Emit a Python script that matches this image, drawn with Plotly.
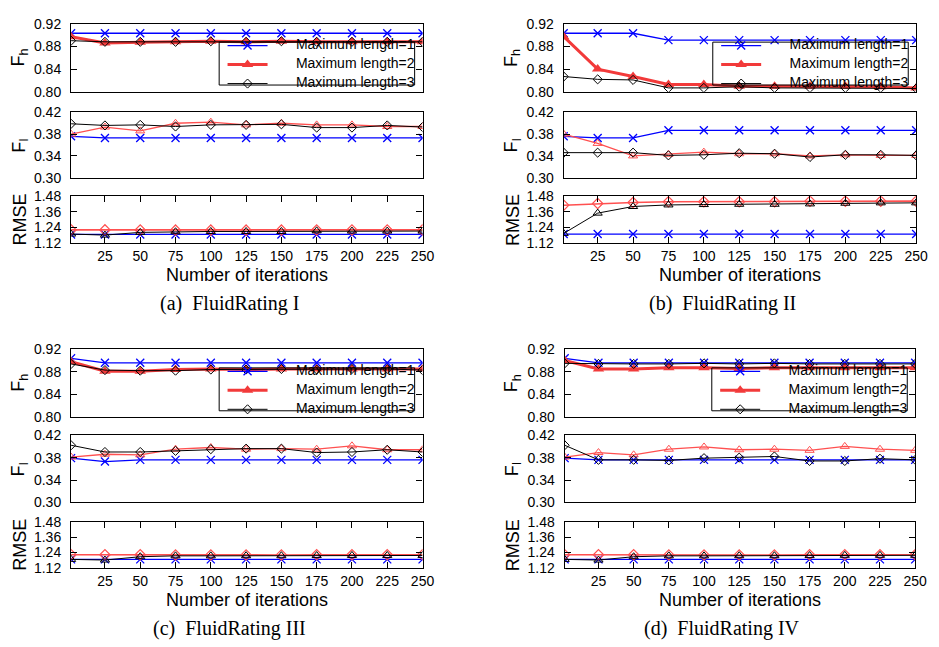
import plotly.graph_objects as go

# ---------------- data ----------------
iterations = [1, 25, 50, 75, 100, 125, 150, 175, 200, 225, 250]
x_ticks = [25, 50, 75, 100, 125, 150, 175, 200, 225, 250]
series_names = ["Maximum length=1", "Maximum length=2", "Maximum length=3"]
captions = ["(a)\u00a0 FluidRating I", "(b)\u00a0 FluidRating II",
            "(c)\u00a0 FluidRating III", "(d)\u00a0 FluidRating IV"]
fh_ticks = [0.80, 0.84, 0.88, 0.92]
fi_ticks = [0.30, 0.34, 0.38, 0.42]
rm_ticks = [1.12, 1.24, 1.36, 1.48]

# panel (a)
fh_a_1 = [0.903, 0.903, 0.903, 0.903, 0.903, 0.903, 0.903, 0.903, 0.903, 0.903, 0.903]
fh_a_2 = [0.897, 0.886, 0.887, 0.888, 0.889, 0.888, 0.889, 0.888, 0.888, 0.888, 0.888]
fh_a_3 = [0.890, 0.888, 0.888, 0.888, 0.889, 0.888, 0.889, 0.888, 0.888, 0.888, 0.888]
fi_a_1 = [0.376, 0.373, 0.373, 0.373, 0.373, 0.373, 0.373, 0.373, 0.373, 0.373, 0.373]
fi_a_2 = [0.380, 0.393, 0.386, 0.400, 0.402, 0.397, 0.400, 0.397, 0.397, 0.394, 0.394]
fi_a_3 = [0.399, 0.396, 0.397, 0.394, 0.397, 0.397, 0.398, 0.392, 0.392, 0.396, 0.393]
rm_a_1 = [1.186, 1.186, 1.186, 1.186, 1.186, 1.186, 1.186, 1.186, 1.186, 1.186, 1.186]
rm_a_2 = [1.221, 1.221, 1.220, 1.219, 1.219, 1.219, 1.219, 1.220, 1.220, 1.220, 1.221]
rm_a_3 = [1.189, 1.181, 1.202, 1.207, 1.209, 1.209, 1.209, 1.214, 1.212, 1.212, 1.212]

# panel (b)
fh_b_1 = [0.903, 0.903, 0.903, 0.891, 0.891, 0.891, 0.891, 0.891, 0.891, 0.891, 0.891]
fh_b_2 = [0.897, 0.840, 0.827, 0.813, 0.813, 0.810, 0.810, 0.810, 0.810, 0.809, 0.807]
fh_b_3 = [0.827, 0.822, 0.821, 0.807, 0.807, 0.809, 0.807, 0.807, 0.807, 0.807, 0.806]
fi_b_1 = [0.376, 0.373, 0.373, 0.387, 0.387, 0.387, 0.387, 0.387, 0.387, 0.387, 0.387]
fi_b_2 = [0.380, 0.363, 0.340, 0.343, 0.347, 0.344, 0.344, 0.340, 0.342, 0.341, 0.341]
fi_b_3 = [0.346, 0.346, 0.346, 0.341, 0.342, 0.345, 0.344, 0.338, 0.342, 0.342, 0.341]
rm_b_1 = [1.189, 1.189, 1.189, 1.189, 1.189, 1.189, 1.189, 1.189, 1.189, 1.189, 1.189]
rm_b_2 = [1.411, 1.424, 1.432, 1.437, 1.437, 1.437, 1.437, 1.442, 1.442, 1.442, 1.442]
rm_b_3 = [1.194, 1.350, 1.401, 1.413, 1.416, 1.418, 1.418, 1.421, 1.426, 1.429, 1.429]

# panel (c)
fh_c_1 = [0.904, 0.896, 0.896, 0.896, 0.896, 0.896, 0.896, 0.896, 0.896, 0.896, 0.896]
fh_c_2 = [0.898, 0.881, 0.881, 0.884, 0.885, 0.884, 0.885, 0.885, 0.885, 0.885, 0.885]
fh_c_3 = [0.894, 0.883, 0.882, 0.882, 0.884, 0.884, 0.885, 0.884, 0.885, 0.885, 0.883]
fi_c_1 = [0.379, 0.373, 0.376, 0.376, 0.376, 0.376, 0.376, 0.376, 0.376, 0.376, 0.376]
fi_c_2 = [0.381, 0.386, 0.385, 0.395, 0.398, 0.395, 0.396, 0.395, 0.401, 0.394, 0.394]
fi_c_3 = [0.402, 0.390, 0.390, 0.392, 0.395, 0.396, 0.396, 0.389, 0.390, 0.394, 0.390]
rm_c_1 = [1.186, 1.186, 1.186, 1.186, 1.186, 1.186, 1.186, 1.186, 1.186, 1.186, 1.186]
rm_c_2 = [1.223, 1.222, 1.222, 1.221, 1.221, 1.221, 1.221, 1.222, 1.222, 1.222, 1.222]
rm_c_3 = [1.186, 1.181, 1.207, 1.214, 1.214, 1.215, 1.215, 1.216, 1.217, 1.217, 1.217]

# panel (d)
fh_d_1 = [0.904, 0.896, 0.896, 0.896, 0.896, 0.896, 0.896, 0.896, 0.896, 0.896, 0.896]
fh_d_2 = [0.900, 0.885, 0.885, 0.887, 0.887, 0.886, 0.887, 0.887, 0.887, 0.887, 0.887]
fh_d_3 = [0.895, 0.894, 0.894, 0.894, 0.895, 0.894, 0.895, 0.894, 0.894, 0.894, 0.894]
fi_d_1 = [0.379, 0.376, 0.376, 0.376, 0.376, 0.376, 0.376, 0.376, 0.376, 0.376, 0.376]
fi_d_2 = [0.381, 0.389, 0.385, 0.395, 0.399, 0.394, 0.395, 0.393, 0.400, 0.395, 0.393]
fi_d_3 = [0.402, 0.376, 0.376, 0.375, 0.379, 0.380, 0.382, 0.374, 0.374, 0.378, 0.376]
rm_d_1 = [1.186, 1.186, 1.186, 1.186, 1.186, 1.186, 1.186, 1.186, 1.186, 1.186, 1.186]
rm_d_2 = [1.223, 1.222, 1.222, 1.221, 1.221, 1.221, 1.221, 1.222, 1.222, 1.222, 1.222]
rm_d_3 = [1.186, 1.181, 1.207, 1.214, 1.214, 1.215, 1.215, 1.216, 1.218, 1.218, 1.218]

panels = [
    [[fh_a_1, fh_a_2, fh_a_3], [fi_a_1, fi_a_2, fi_a_3], [rm_a_1, rm_a_2, rm_a_3]],
    [[fh_b_1, fh_b_2, fh_b_3], [fi_b_1, fi_b_2, fi_b_3], [rm_b_1, rm_b_2, rm_b_3]],
    [[fh_c_1, fh_c_2, fh_c_3], [fi_c_1, fi_c_2, fi_c_3], [rm_c_1, rm_c_2, rm_c_3]],
    [[fh_d_1, fh_d_2, fh_d_3], [fi_d_1, fi_d_2, fi_d_3], [rm_d_1, rm_d_2, rm_d_3]],
]

# ---------------- layout geometry (pixels) ----------------
W, H = 939, 647
SANS = "Liberation Sans, Arial, sans-serif"
SERIF = "Liberation Serif, Times New Roman, serif"
BLUE = "#0000ff"
RED = "#f23a3a"
RED_THIN = "#ff5050"
BLACK = "#000000"

col_x = [(72, 428), (571, 928), (72, 428), (572, 927)]
rows_top = [(16, 86), (107, 174), (193, 241)]
rows_bot = [(350, 419), (438, 507), (527, 574)]
panel_rows = [rows_top, rows_top, rows_bot, rows_bot]

metric_titles = ["F<sub>h</sub>", "F<sub>I</sub>", "RMSE"]
metric_ranges = [(0.80, 0.92), (0.30, 0.42), (1.12, 1.48)]
metric_ticks = [fh_ticks, fi_ticks, rm_ticks]


def px_x(p):
    return p / W


def px_y(p):
    return 1 - p / H


def legend_label(name):
    return '<span style="font-size:14px">' + "\u00a0" * 6 + name + "</span>"


fig = go.Figure()
layout = dict(
    width=W, height=H,
    margin=dict(l=0, r=0, t=0, b=0),
    paper_bgcolor="white", plot_bgcolor="white",
    font=dict(family=SANS, size=14, color="black"),
    showlegend=True,
)
annotations = []
shapes = []

legend_keys = ["legend", "legend2", "legend3", "legend4"]

for p in range(4):
    x0, x1 = col_x[p]
    for r in range(3):
        idx = p * 3 + r + 1
        xa = "x" if idx == 1 else f"x{idx}"
        ya = "y" if idx == 1 else f"y{idx}"
        xkey = "xaxis" if idx == 1 else f"xaxis{idx}"
        ykey = "yaxis" if idx == 1 else f"yaxis{idx}"
        t, b = panel_rows[p][r]
        is_rmse = r == 2
        layout[xkey] = dict(
            domain=[px_x(x0), px_x(x1)], anchor=ya, range=[1, 250],
            tickvals=x_ticks, showticklabels=is_rmse,
            ticks="inside" if is_rmse else "", ticklen=6, tickcolor="black",
            showline=True, linecolor="black", linewidth=1.2,
            mirror="ticks" if is_rmse else True,
            showgrid=False, zeroline=False,
            tickfont=dict(family=SANS, size=14), ticklabelstandoff=0,
        )
        lo, hi = metric_ranges[r]
        layout[ykey] = dict(
            domain=[px_y(b), px_y(t)], anchor=xa, range=[lo, hi],
            tickvals=metric_ticks[r], tickformat=".2f",
            ticks="inside", ticklen=6, tickcolor="black",
            showline=True, linecolor="black", linewidth=1.2, mirror="ticks",
            showgrid=False, zeroline=False,
            tickfont=dict(family=SANS, size=14), ticklabelstandoff=6,
        )
        data = panels[p][r]
        # series 1
        fig.add_trace(go.Scatter(
            x=iterations, y=data[0], xaxis=xa, yaxis=ya, mode="lines+markers",
            name=legend_label(series_names[0]) if r == 0 else series_names[0],
            showlegend=(r == 0), legend=legend_keys[p],
            line=dict(color=BLUE, width=1.3),
            marker=dict(symbol="x-thin-open", size=8, color=BLUE, line=dict(width=1.3, color=BLUE)),
        ))
        # series 2
        if r == 0:
            m2 = dict(symbol="triangle-up", size=10, color=RED, line=dict(width=0))
            l2 = dict(color=RED, width=3)
        elif r == 1:
            m2 = dict(symbol="triangle-up-open", size=8, color=RED_THIN, line=dict(width=1))
            l2 = dict(color=RED_THIN, width=1.3)
        else:
            m2 = dict(symbol="diamond-open", size=8, color=RED_THIN, line=dict(width=1.2))
            l2 = dict(color=RED_THIN, width=1.6)
        fig.add_trace(go.Scatter(
            x=iterations, y=data[1], xaxis=xa, yaxis=ya, mode="lines+markers",
            name=legend_label(series_names[1]) if r == 0 else series_names[1],
            showlegend=(r == 0), legend=legend_keys[p],
            line=l2, marker=m2,
        ))
        # series 3
        if r == 2:
            m3 = dict(symbol="triangle-up-open", size=8, color=BLACK, line=dict(width=1))
        else:
            m3 = dict(symbol="diamond-open", size=7, color=BLACK, line=dict(width=1))
        fig.add_trace(go.Scatter(
            x=iterations, y=data[2], xaxis=xa, yaxis=ya, mode="lines+markers",
            name=legend_label(series_names[2]) if r == 0 else series_names[2],
            showlegend=(r == 0), legend=legend_keys[p],
            line=dict(color=BLACK, width=1), marker=m3,
        ))
        # y axis title
        annotations.append(dict(
            text=metric_titles[r], xref="paper", yref="paper",
            x=px_x(x0 - 52), y=px_y((t + b) / 2), xanchor="center", yanchor="middle",
            textangle=-90, showarrow=False, font=dict(family=SANS, size=18),
        ))
    # x title and caption
    rb = panel_rows[p][2][1]
    annotations.append(dict(
        text="Number of iterations", xref="paper", yref="paper",
        x=px_x((x0 + x1) / 2), y=px_y(rb + 33), xanchor="center", yanchor="middle",
        showarrow=False, font=dict(family=SANS, size=18),
    ))
    annotations.append(dict(
        text=captions[p], xref="paper", yref="paper",
        x=px_x((x0 + x1) / 2 - 18), y=px_y(rb + 62), xanchor="center", yanchor="middle",
        showarrow=False, font=dict(family=SERIF, size=20),
    ))
    # legend (frame drawn as a shape to match the compact box)
    ft = panel_rows[p][0][0]
    box_l, box_r = x1 - 206, x1 - 8
    box_t, box_b = ft + 19, ft + 63
    shapes.append(dict(
        type="rect", xref="paper", yref="paper",
        x0=px_x(box_l), x1=px_x(box_r), y0=px_y(box_b), y1=px_y(box_t),
        line=dict(color="black", width=1), fillcolor="rgba(0,0,0,0)",
    ))
    layout[legend_keys[p]] = dict(
        x=px_x(box_r + 6), xanchor="right", y=px_y((box_t + box_b) / 2 + 1), yanchor="middle",
        bgcolor="rgba(0,0,0,0)", borderwidth=0,
        font=dict(family=SANS, size=10), itemwidth=40, tracegroupgap=0,
    )

layout["annotations"] = annotations
layout["shapes"] = shapes
fig.update_layout(**layout)
fig.write_html("out.html", config={"displayModeBar": False},
               post_script="document.body.style.margin='0px';")
